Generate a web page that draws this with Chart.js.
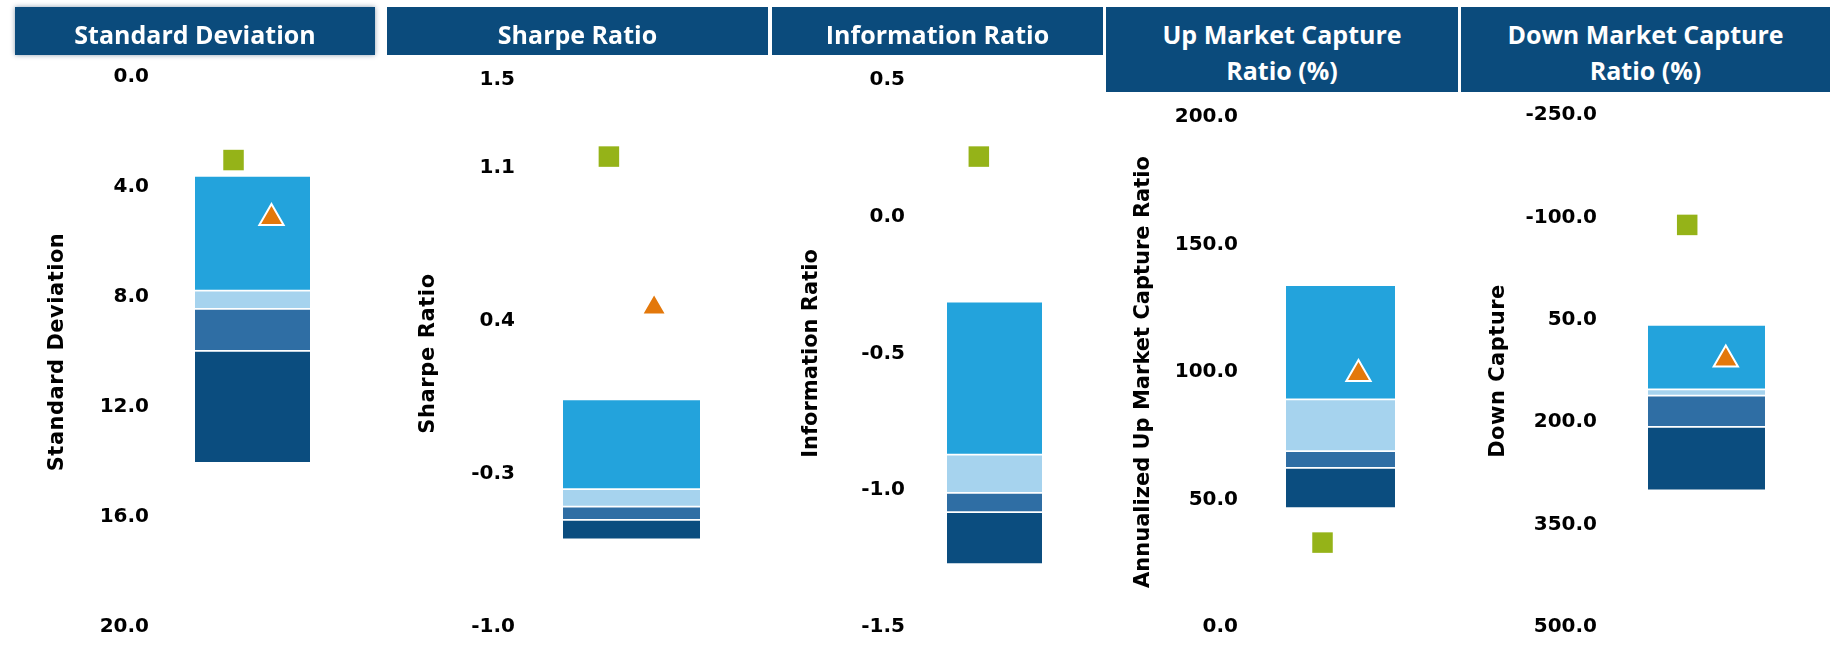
<!DOCTYPE html>
<html><head><meta charset="utf-8">
<script src="https://cdn.jsdelivr.net/npm/chart.js@4.4.1/dist/chart.umd.min.js"></script>
<style>
html,body{margin:0;padding:0;background:#fff;width:1837px;height:647px;overflow:hidden;}
.hdr{position:absolute;top:7px;background:#0b4b7c;color:#fff;font-family:'Open Sans',sans-serif;font-weight:700;font-size:25px;display:flex;flex-direction:column;align-items:center;justify-content:center;box-sizing:border-box;line-height:36px;padding-top:5px;z-index:2;white-space:nowrap;}
.hdr.first{box-shadow:0 0 5px rgba(0,40,80,0.45);}
canvas{position:absolute;top:0;}
</style></head><body>
<script>
// ---------- data ----------
const headerLines = [['Standard Deviation'], ['Sharpe Ratio'], ['Information Ratio'], ['Up Market Capture', 'Ratio (%)'], ['Down Market Capture', 'Ratio (%)']];
const axisTitles = ['Standard Deviation', 'Sharpe Ratio', 'Information Ratio', 'Annualized Up Market Capture Ratio', 'Down Capture'];

const sdTicks = [0, 4, 8, 12, 16, 20];
const sharpeTicks = [-1.0, -0.3, 0.4, 1.1, 1.5];
const infoTicks = [-1.5, -1.0, -0.5, 0.0, 0.5];
const upTicks = [0, 50, 100, 150, 200];
const downTicks = [-250, -100, 50, 200, 350, 500];

// quartile break points, from best end to worst end (5 values -> 4 ranges)
const sdQuartiles = [3.6, 7.77, 8.43, 9.96, 14.03];
const sharpeQuartiles = [0.04, -0.37, -0.45, -0.51, -0.60];
const infoQuartiles = [-0.31, -0.87, -1.01, -1.08, -1.27];
const upQuartiles = [134.1, 89.3, 69.0, 62.4, 46.6];
const downQuartiles = [57.6, 152, 161, 207, 300];

// markers
const squareValues = [3.02, 1.15, 0.22, 33.1, -89];
const triangleValues = [5.13, 0.46, null, 99.2, 108];

const tickSets = [sdTicks, sharpeTicks, infoTicks, upTicks, downTicks];
const quartileSets = [sdQuartiles, sharpeQuartiles, infoQuartiles, upQuartiles, downQuartiles];

// ---------- layout / style ----------
const PAGE_H = 647;
const LAYOUT = [
  {left: 15,   right: 375,  hdrH: 48, title: 57.5,  tickRight: 149,  barL: 195,  barR: 310,  yTop: 77,  yBot: 633, reverse: true,  ls: '0.5px'},
  {left: 387,  right: 768,  hdrH: 48, title: 429,   tickRight: 515,  barL: 563,  barR: 700,  yTop: 80,  yBot: 633, reverse: false, ls: '0.6px'},
  {left: 772,  right: 1103, hdrH: 48, title: 812,   tickRight: 905,  barL: 947,  barR: 1042, yTop: 80,  yBot: 633, reverse: false, ls: '0px'},
  {left: 1106, right: 1458, hdrH: 85, title: 1143.5,tickRight: 1238, barL: 1286, barR: 1395, yTop: 117, yBot: 633, reverse: false, ls: '0px'},
  {left: 1461, right: 1830, hdrH: 85, title: 1499,  tickRight: 1597, barL: 1648, barR: 1765, yTop: 115, yBot: 632, reverse: true,  ls: '0.5px'}
];
const QCOLORS = ['#23a3dc', '#a6d3ee', '#2f6ea4', '#0b4d7f'];
const SQUARE_COLOR = '#95b318';
const TRI_COLOR = '#e3780b';
const MARK_OFFSET = 0.165; // fraction of bar width
const TICK_PAD = 8;
const TITLE_FONT = 21;
const TICK_FONT = {family: "'DejaVu Sans', sans-serif", size: 20, weight: 'bold'};

const spacedTitle = {
  id: 'spacedTitle',
  beforeDraw(chart, args, opts) {
    const s = chart.scales.y;
    if (s && !s.__wrapped) {
      const orig = s.drawTitle;
      s.drawTitle = function () {
        const c = this.ctx;
        const prev = c.letterSpacing;
        c.letterSpacing = opts.spacing || '0px';
        orig.call(this);
        c.letterSpacing = prev;
      };
      s.__wrapped = true;
    }
  }
};

LAYOUT.forEach((L, i) => {
  // header
  const h = document.createElement('div');
  h.className = 'hdr' + (i === 0 ? ' first' : '');
  h.style.left = L.left + 'px';
  h.style.width = (L.right - L.left) + 'px';
  h.style.height = L.hdrH + 'px';
  headerLines[i].forEach(t => { const s = document.createElement('div'); s.textContent = t; h.appendChild(s); });
  document.body.appendChild(h);

  // canvas
  const cv = document.createElement('canvas');
  const W = L.right - L.left;
  cv.width = W; cv.height = PAGE_H;
  cv.style.left = L.left + 'px';
  cv.style.width = W + 'px'; cv.style.height = PAGE_H + 'px';
  document.body.appendChild(cv);

  const lineH = TITLE_FONT * 1.2;
  const axisLeft = L.title - lineH / 2;
  const chartLeft = L.tickRight + TICK_PAD;
  const axisWidth = chartLeft - axisLeft;
  const barCenter = (L.barL + L.barR) / 2;
  const barW = L.barR - L.barL;
  const half = barCenter - chartLeft;
  const chartRight = barCenter + half;
  const markDx = MARK_OFFSET * barW / half;

  const ticks = tickSets[i];
  const q = quartileSets[i];
  const datasets = [];
  datasets.push({
    type: 'scatter', label: 'square', order: 0, clip: false,
    data: squareValues[i] === null ? [] : [{x: -markDx, y: squareValues[i]}],
    pointStyle: 'rect', pointRadius: 14.5, backgroundColor: SQUARE_COLOR, borderWidth: 0
  });
  datasets.push({
    type: 'scatter', label: 'triangle', order: 0, clip: false,
    data: triangleValues[i] === null ? [] : [{x: markDx, y: triangleValues[i]}],
    pointStyle: 'triangle', pointRadius: 14, backgroundColor: TRI_COLOR, borderColor: '#ffffff', borderWidth: 2
  });
  for (let k = 0; k < 4; k++) {
    datasets.push({
      type: 'bar', label: 'Q' + (k + 1), order: 1, grouped: false,
      data: [{x: 0, y: [q[k], q[k + 1]]}],
      backgroundColor: QCOLORS[k], borderColor: '#ffffff',
      borderWidth: {top: 1.2, bottom: 1.2, left: 0, right: 0}, borderSkipped: false,
      barThickness: barW
    });
  }

  new Chart(cv, {
    type: 'bar',
    data: {datasets},
    plugins: [spacedTitle],
    options: {
      responsive: false, animation: false, events: [],
      layout: {padding: {left: axisLeft - L.left, right: L.right - chartRight, top: L.yTop, bottom: PAGE_H - L.yBot}},
      plugins: {legend: {display: false}, tooltip: {enabled: false}, spacedTitle: {spacing: L.ls}},
      scales: {
        x: {type: 'linear', display: false, min: -1, max: 1, offset: false, grid: {display: false}},
        y: {
          type: 'linear', min: Math.min(...ticks), max: Math.max(...ticks), reverse: L.reverse,
          grid: {display: false, drawTicks: false}, border: {display: false},
          afterBuildTicks: (s) => { s.ticks = ticks.map(v => ({value: v})); },
          afterFit: (s) => { s.width = axisWidth; },
          ticks: {padding: TICK_PAD, color: '#000', font: TICK_FONT, callback: (v) => Number(v).toFixed(1)},
          title: {display: true, text: axisTitles[i], color: '#000', padding: {top: 0, bottom: 0},
                  font: {family: "'DejaVu Sans', sans-serif", size: TITLE_FONT, weight: 'bold'}}
        }
      }
    }
  });
});
</script>
</body></html>
